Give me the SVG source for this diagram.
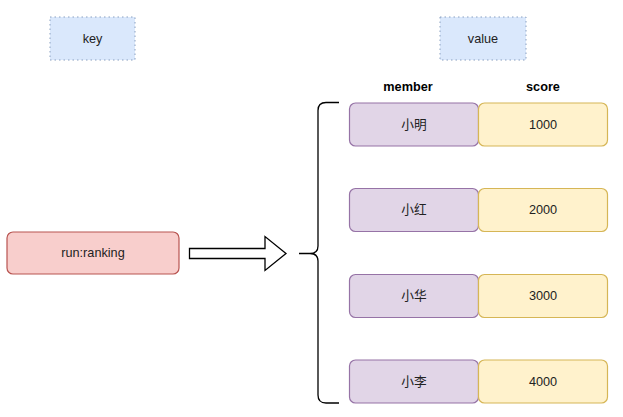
<svg xmlns="http://www.w3.org/2000/svg" width="623" height="417" viewBox="0 0 623 417">
<style>
text{font-family:"Liberation Sans","Noto Sans CJK SC",Arial,sans-serif;font-size:12.7px;fill:#222;text-anchor:middle;dominant-baseline:central}
.hdr{fill:#dae8fc;stroke:#8aa0c0;stroke-width:1;stroke-dasharray:1.5 3}
.mem{fill:#e1d5e7;stroke:#9673a6;stroke-width:1.2}
.sc{fill:#fff2cc;stroke:#d6b656;stroke-width:1.2}
.key{fill:#f8cecc;stroke:#b85450;stroke-width:1.2}
.b{font-weight:bold;fill:#000}
.ln{fill:none;stroke:#000;stroke-width:1.3}
</style>
<rect width="623" height="417" fill="#fff"/>
<g id="key-label"><rect class="hdr" x="50" y="17" width="85" height="43"/><text x="92.5" y="39">key</text></g>
<g id="value-label"><rect class="hdr" x="440" y="17" width="86" height="43"/><text x="483" y="39">value</text></g>
<g id="run-ranking"><rect class="key" x="7" y="232" width="172" height="42" rx="6"/><text x="93" y="253">run:ranking</text></g>
<g id="member-header"><text class="b" x="408" y="87">member</text></g>
<g id="score-header"><text class="b" x="543" y="87">score</text></g>
<g id="m1"><rect class="mem" x="349.5" y="103" width="129" height="43" rx="6"/><text x="414" y="125">小明</text></g>
<g id="s1"><rect class="sc" x="478.5" y="103" width="129" height="43" rx="6"/><text x="543" y="125">1000</text></g>
<g id="m2"><rect class="mem" x="349.5" y="188.5" width="129" height="43" rx="6"/><text x="414" y="210">小红</text></g>
<g id="s2"><rect class="sc" x="478.5" y="188.5" width="129" height="43" rx="6"/><text x="543" y="210">2000</text></g>
<g id="m3"><rect class="mem" x="349.5" y="274.5" width="129" height="43" rx="6"/><text x="414" y="296">小华</text></g>
<g id="s3"><rect class="sc" x="478.5" y="274.5" width="129" height="43" rx="6"/><text x="543" y="296">3000</text></g>
<g id="m4"><rect class="mem" x="349.5" y="360" width="129" height="43" rx="6"/><text x="414" y="381.5">小李</text></g>
<g id="s4"><rect class="sc" x="478.5" y="360" width="129" height="43" rx="6"/><text x="543" y="381.5">4000</text></g>
<g id="connectors">
<path class="ln" d="M189.5 248.5 H265 V236.5 L286 253.5 L265 270.5 V258.5 H189.5 Z" fill="#fff"/>
<path class="ln" d="M339 102.5 H326 Q318 102.5 318 110.5 V246 Q318 253.5 310 253.5 H299 M310 253.5 Q318 253.5 318 261 V395 Q318 403 326 403 H339"/>
</g>
</svg>
